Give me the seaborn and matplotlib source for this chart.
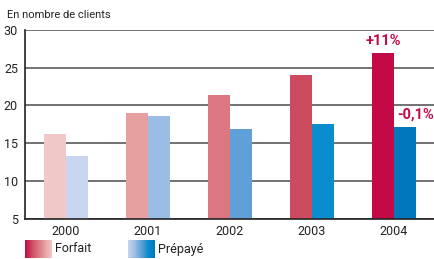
import numpy as np
import pandas as pd
import matplotlib
matplotlib.use("Agg")
import matplotlib.pyplot as plt
from matplotlib.colors import LinearSegmentedColormap
import seaborn as sns

years = ["2000", "2001", "2002", "2003", "2004"]
forfait = [16.2, 19.0, 21.4, 24.0, 27.0]
prepaye = [13.3, 18.6, 16.9, 17.5, 17.1]
forfait_colors = ["#F0C8C8", "#E6A0A0", "#DC7680", "#CD4B5F", "#C30A46"]
prepaye_colors = ["#C8D7EF", "#9BBDE5", "#5FA0D8", "#0A8CCD", "#0078BE"]
series_names = ["Forfait", "Prépayé"]
notes = ["+11%", "-0,1%"]

sns.set_style("white")
plt.rcParams["font.family"] = ["Roboto", "DejaVu Sans"]

df = pd.DataFrame({
    "year": years * 2,
    "value": forfait + prepaye,
    "type": [series_names[0]] * 5 + [series_names[1]] * 5,
})

fig = plt.figure(figsize=(4.35, 2.59), dpi=100)
ax = fig.add_axes([25 / 435, 40.5 / 259, 410 / 435, 188.5 / 259])

sns.barplot(data=df, x="year", y="value", hue="type", width=0.54,
            legend=False, ax=ax, saturation=1)

bars = list(ax.patches)
for i, p in enumerate(bars[:5]):
    p.set_facecolor(forfait_colors[i])
    p.set_edgecolor("none")
for i, p in enumerate(bars[5:10]):
    p.set_facecolor(prepaye_colors[i])
    p.set_edgecolor("none")

ax.set_ylim(5, 30)
ax.set_xlim(-0.5, 4.5)
ax.set_yticks([5, 10, 15, 20, 25, 30])
ax.yaxis.grid(True, color="#5a5a5a", linewidth=1.2)
ax.set_axisbelow(True)
ax.set_xlabel("")
ax.set_ylabel("")
for s in ["top", "right"]:
    ax.spines[s].set_visible(False)
ax.spines["left"].set_color("#222222")
ax.spines["bottom"].set_color("#222222")
ax.spines["left"].set_linewidth(1.2)
ax.spines["bottom"].set_linewidth(1.2)
ax.tick_params(axis="y", length=0, pad=5, labelsize=9, colors="#222222")
ax.tick_params(axis="x", which="major", length=0, pad=5, labelsize=9, colors="#222222")
ax.set_xticks(np.arange(0.5, 5, 1), minor=True)
ax.tick_params(axis="x", which="minor", direction="in", length=4, width=1, color="#222222")

# annotations
fb = bars[4]
ax.text(fb.get_x() + fb.get_width() / 2, fb.get_height() + 0.6, notes[0],
        ha="center", va="bottom", color="#C30A46", fontsize=10.5, fontweight="bold")
pb = bars[9]
ax.text(4.49, pb.get_height() + 0.7, notes[1],
        ha="right", va="bottom", color="#C30A46", fontsize=10.5, fontweight="bold",
        clip_on=False)

fig.text(7 / 435, 1 - 15 / 259, "En nombre de clients", fontsize=8,
         va="center", ha="left", color="#222222")

# gradient legend
grad = np.linspace(0, 1, 100).reshape(1, -1)
cm_f = LinearSegmentedColormap.from_list("f", forfait_colors[::-1])
cm_p = LinearSegmentedColormap.from_list("p", prepaye_colors)
for x0, cm, name in [(25, cm_f, series_names[0]), (128, cm_p, series_names[1])]:
    lax = fig.add_axes([x0 / 435, 1 / 259, 27 / 435, 18 / 259])
    lax.imshow(grad, aspect="auto", cmap=cm)
    lax.set_axis_off()
    fig.text((x0 + 30) / 435, 10 / 259, name, fontsize=9, va="center",
             ha="left", color="#222222")

fig.savefig("out.png", dpi=100)
